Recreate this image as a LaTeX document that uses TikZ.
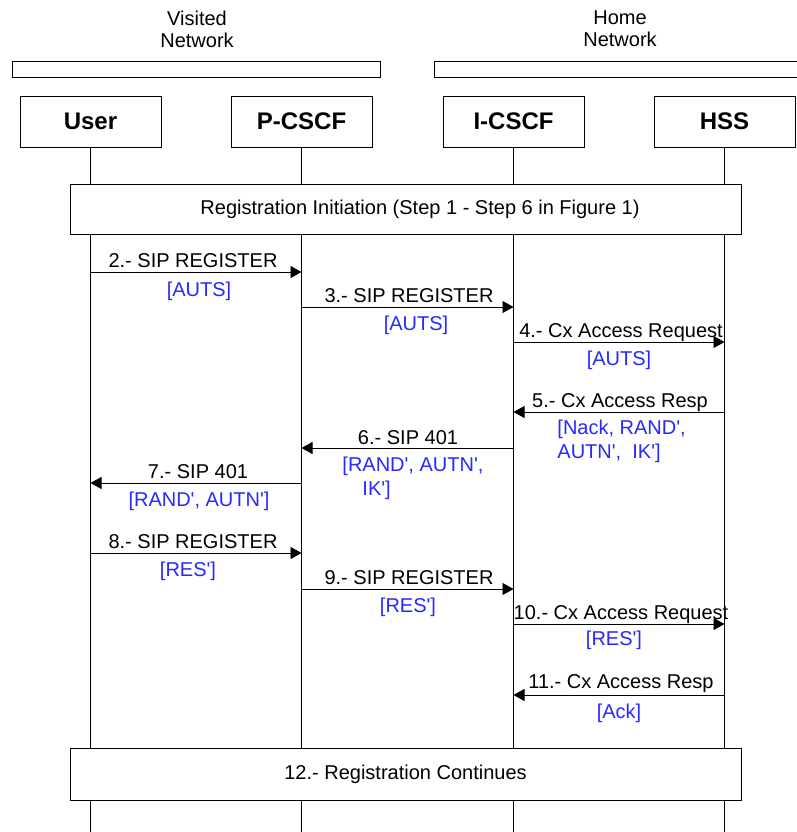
\documentclass[tikz,border=0pt]{standalone}
\usepackage{fontspec}
\setmainfont{Liberation Sans}[Ligatures=TeXOff]
\usetikzlibrary{arrows.meta}
\definecolor{parblue}{RGB}{40,40,255}

\begin{document}
\begin{tikzpicture}[x=1pt,y=-1pt,line width=0.9pt,
  entity/.style={draw,minimum width=141pt,minimum height=51pt,inner sep=0pt,
    font=\fontsize{24}{28}\selectfont\bfseries},
  netbar/.style={draw,minimum height=16pt,inner sep=0pt},
  stepbox/.style={draw,fill=white,minimum width=671pt,minimum height=50pt,
    inner sep=0pt,font=\fontsize{20}{24}\selectfont},
  msg/.style={-{Triangle[length=11pt,width=12pt]}},
  lbl/.style={anchor=base,inner sep=0pt,font=\fontsize{20}{24}\selectfont},
  par/.style={lbl,text=parblue}]

\useasboundingbox (0,0) rectangle (797,832);

% networks
\node[align=center,font=\fontsize{20}{22}\selectfont] (vtext) at (197,29) {Visited\\Network};
\node[align=center,font=\fontsize{20}{22}\selectfont] (htext) at (620,29) {Home\\Network};
\node[netbar,minimum width=368pt] (visited) at (196,69) {};
\node[netbar,minimum width=372pt] (home) at (620,69) {};

% entities
\node[entity] (user) at (90.5,121.5) {User};
\node[entity] (pcscf) at (301.5,121.5) {P-CSCF};
\node[entity] (icscf) at (513.5,121.5) {I-CSCF};
\node[entity] (hss) at (724.5,121.5) {HSS};

\coordinate (userend) at (user |- 0,832);
\coordinate (pcscfend) at (pcscf |- 0,832);
\coordinate (icscfend) at (icscf |- 0,832);
\coordinate (hssend) at (hss |- 0,832);

\draw (user)--(userend);
\draw (pcscf)--(pcscfend);
\draw (icscf)--(icscfend);
\draw (hss)--(hssend);

\node[stepbox] (init) at (405.5,209.5) {\hspace*{29pt}Registration Initiation (Step 1 - Step 6 in Figure 1)};

% 2
\coordinate (u2) at (user |- 0,272);
\coordinate (p2) at (pcscf |- 0,272);
\draw[msg] (u2)--(p2);
\node[lbl] (m2) at (193,267) {2.- SIP REGISTER};
\node[par] (a2) at (199,296) {[AUTS]};

% 3
\coordinate (p3) at (pcscf |- 0,307);
\coordinate (i3) at (icscf |- 0,307);
\draw[msg] (p3)--(i3);
\node[lbl] (m3) at (409,302) {3.- SIP REGISTER};
\node[par] (a3) at (416,330) {[AUTS]};

% 4
\coordinate (i4) at (icscf |- 0,342);
\coordinate (h4) at (hss |- 0,342);
\draw[msg] (i4)--(h4);
\node[lbl] (m4) at (621,337) {4.- Cx Access Request};
\node[par] (a4) at (619,365) {[AUTS]};

% 5
\coordinate (h5) at (hss |- 0,412);
\coordinate (i5) at (icscf |- 0,412);
\draw[msg] (h5)--(i5);
\node[lbl] (m5) at (620,407) {5.- Cx Access Resp};
\node[par,anchor=base west,align=left,font=\fontsize{20}{24}\selectfont] (a5) at (557,458)
  {[Nack, RAND',\\AUTN',\ \ IK']};

% 6
\coordinate (i6) at (icscf |- 0,448);
\coordinate (p6) at (pcscf |- 0,448);
\draw[msg] (i6)--(p6);
\node[lbl] (m6) at (408,444) {6.- SIP 401};
\node[par,anchor=base west,align=left,font=\fontsize{20}{24}\selectfont] (a6) at (342,495)
  {[RAND', AUTN',\\\hspace*{20pt}IK']};

% 7
\coordinate (p7) at (pcscf |- 0,483);
\coordinate (u7) at (user |- 0,483);
\draw[msg] (p7)--(u7);
\node[lbl] (m7) at (198,478) {7.- SIP 401};
\node[par] (a7) at (199,506) {[RAND', AUTN']};

% 8
\coordinate (u8) at (user |- 0,553);
\coordinate (p8) at (pcscf |- 0,553);
\draw[msg] (u8)--(p8);
\node[lbl] (m8) at (193,548) {8.- SIP REGISTER};
\node[par] (a8) at (188,576) {[RES']};

% 9
\coordinate (p9) at (pcscf |- 0,589);
\coordinate (i9) at (icscf |- 0,589);
\draw[msg] (p9)--(i9);
\node[lbl] (m9) at (409,584) {9.- SIP REGISTER};
\node[par] (a9) at (408,612) {[RES']};

% 10
\coordinate (i10) at (icscf |- 0,624);
\coordinate (h10) at (hss |- 0,624);
\draw[msg] (i10)--(h10);
\node[lbl] (m10) at (621,619) {10.- Cx Access Request};
\node[par] (a10) at (614,645) {[RES']};

% 11
\coordinate (h11) at (hss |- 0,695);
\coordinate (i11) at (icscf |- 0,695);
\draw[msg] (h11)--(i11);
\node[lbl] (m11) at (621,688) {11.- Cx Access Resp};
\node[par] (a11) at (619,718) {[Ack]};

\node[stepbox,minimum height=52pt] (cont) at (405.5,774) {12.- Registration Continues};

\end{tikzpicture}
\end{document}
